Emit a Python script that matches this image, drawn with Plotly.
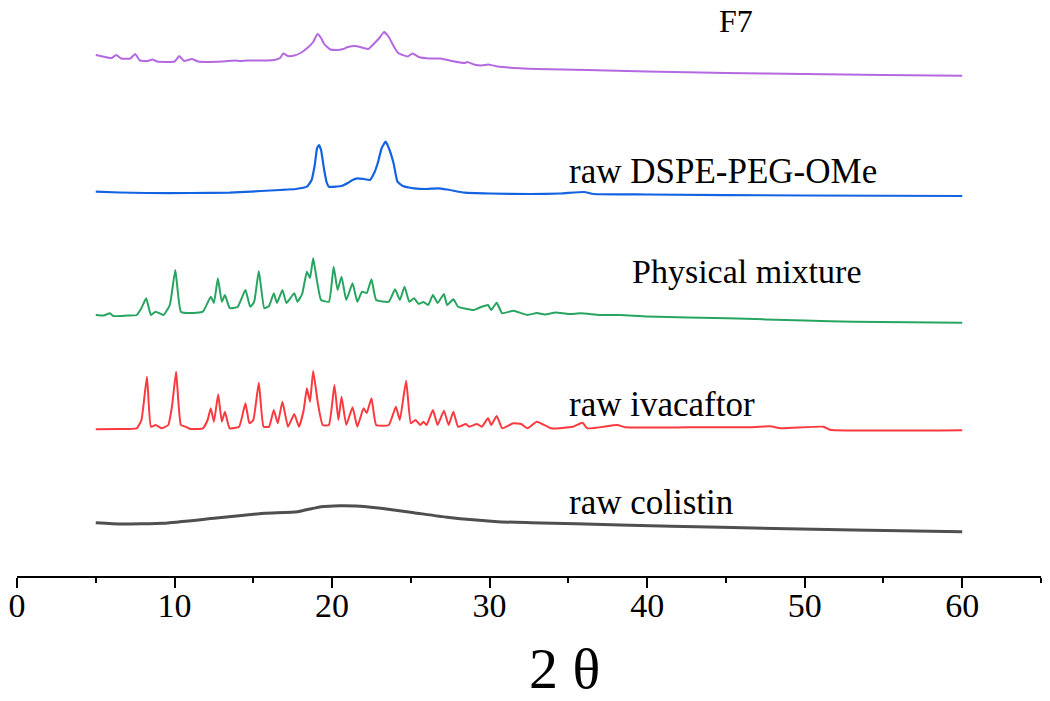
import plotly.graph_objects as go

# ---- data (2θ in degrees, displayed intensity in a.u., stacked as in the figure) ----
f7_x = [5.0, 5.6, 6.0, 6.3, 6.6, 7.2, 7.5, 7.8, 8.3, 8.6, 8.9, 10.0, 10.3, 10.6, 11.1, 11.5,
        13.0, 13.8, 14.2, 14.6, 15.5, 16.3, 16.7, 16.9, 17.2, 17.6, 18.0, 18.5, 18.8, 19.07,
        19.3, 19.5, 19.9, 20.3, 20.7, 21.0, 21.5, 22.0, 22.3, 22.7, 23.0, 23.3, 23.6, 23.9,
        24.2, 24.8, 25.1, 25.5, 26.2, 26.9, 27.6, 28.4, 28.6, 29.0, 29.5, 29.9, 30.5, 31.9,
        33.0, 36.2, 40.0, 45.0, 50.0, 55.0, 60.0]
f7_y = [521, 519, 518, 521, 517.5, 517.5, 522, 515.5, 515, 516.5, 514.5, 514.5, 520, 515, 517, 514.5,
        514.5, 515.5, 515, 515.5, 515.5, 516, 518, 522.5, 520, 520.5, 523, 529, 534, 542,
        538, 532, 526.5, 526, 527, 529, 530, 528, 527, 533, 538, 544, 539, 530,
        523, 519.5, 522.5, 519, 517.5, 517.5, 515, 513, 514, 511.5, 510.5, 511.5, 509.5, 507.7,
        507, 506, 504.5, 503, 502, 501, 500.3]

dspe_x = [5.0, 6.5, 8.25, 11.0, 13.5, 15.5, 16.7, 17.7, 18.4, 18.7, 18.9, 19.05, 19.17, 19.3,
          19.5, 19.65, 19.8, 20.3, 20.6, 21.0, 21.3, 21.6, 22.0, 22.4, 22.7, 22.9, 23.15, 23.4,
          23.6, 23.9, 24.15, 24.5, 25.2, 26.0, 26.7, 27.3, 28.4, 30.0, 32.6, 34.5, 36.0, 36.6,
          40.0, 50.0, 60.0]
dspe_y = [384.3, 383.5, 383, 383, 383.3, 385, 386, 387, 389.3, 396, 411, 428, 431, 426,
          406, 394, 389.3, 389.5, 390, 393, 396, 397.7, 397, 396, 404, 413, 428, 434.3,
          428, 413, 394.3, 390, 387.7, 387, 387.7, 386.5, 383.3, 382.5, 382, 382.5, 384, 382,
          381.5, 380.5, 380]

mix_x = [5.0, 5.5, 5.9, 6.1, 7.0, 7.6, 7.9, 8.2, 8.5, 8.8, 9.3, 9.7, 10.05, 10.4, 11.0, 11.8,
         12.3, 12.5, 12.75, 13.0, 13.2, 13.5, 14.0, 14.5, 14.8, 15.05, 15.35, 15.7, 16.0, 16.3,
         16.5, 16.85, 17.1, 17.6, 17.8, 18.1, 18.4, 18.6, 18.8, 19.0, 19.3, 19.8, 20.1, 20.35,
         20.6, 20.9, 21.3, 21.6, 21.9, 22.2, 22.5, 22.8, 23.6, 24.0, 24.3, 24.6, 24.9, 25.2,
         25.5, 25.8, 26.1, 26.4, 26.7, 27.1, 27.3, 27.7, 28.0, 29.0, 29.3, 29.9, 30.1, 30.45,
         30.8, 31.5, 32.4, 33.0, 33.5, 34.2, 35.0, 35.8, 37.0, 38.3, 40.0, 45.1, 50.0, 53.1, 60.0]
mix_y = [261, 260.5, 262.7, 260, 260.5, 261, 268, 277.7, 261, 264.3, 261, 271, 306, 264.3, 263, 264.3,
         279.3, 273, 297.7, 274.3, 281, 268, 269, 286, 269.3, 274, 305, 267.7, 270, 282.7,
         273, 286, 273, 282.7, 274.3, 282, 304.3, 298, 317.7, 299.3, 276, 274.3, 309.3, 286,
         299.3, 276, 292.7, 274.3, 284.3, 283, 296.7, 276, 274.3, 286.7, 276, 289.3, 274.3, 277.7,
         272, 274, 271, 281, 273, 282, 271, 276.7, 269.3, 266, 268, 271, 266, 273.3,
         262.7, 265.3, 261, 263, 261.5, 263.5, 262, 262.7, 261, 261, 259.5, 257.7, 255.5, 254.3, 253.3]

iva_x = [5.0, 6.5, 7.6, 7.9, 8.25, 8.5, 8.8, 9.2, 9.6, 9.85, 10.1, 10.4, 10.7, 11.0, 11.8, 12.1,
         12.3, 12.5, 12.77, 13.0, 13.2, 13.5, 14.1, 14.5, 14.75, 15.0, 15.35, 15.65, 16.0, 16.3,
         16.55, 16.85, 17.2, 17.6, 17.9, 18.2, 18.4, 18.6, 18.8, 19.1, 19.4, 19.8, 20.15, 20.4,
         20.6, 20.9, 21.3, 21.6, 22.0, 22.2, 22.5, 22.8, 23.6, 24.05, 24.3, 24.7, 25.0, 25.3,
         25.6, 25.8, 26.0, 26.4, 26.7, 27.1, 27.4, 27.7, 28.0, 28.5, 28.7, 29.2, 29.5, 29.9,
         30.1, 30.45, 30.8, 31.5, 32.0, 32.4, 33.0, 33.9, 35.3, 35.9, 36.2, 38.1, 38.6, 42.6,
         46.3, 47.8, 48.5, 51.2, 51.6, 60.0]
iva_y = [146.7, 147, 147.7, 156, 199.3, 149.3, 151, 147.7, 151, 171, 204.3, 151, 149.3, 147, 147.7, 156,
         167.7, 154.3, 181.7, 154.3, 164.3, 147.7, 149.3, 172.7, 152.7, 156, 193.3, 149.3, 149.3, 166,
         152.7, 174.3, 149.3, 162, 149.3, 166, 187.7, 174.3, 205, 172.7, 151, 151, 191, 156,
         179.3, 151, 168.7, 149.3, 167.7, 163, 177.7, 151, 151, 169.3, 156, 195.3, 152.7, 156,
         151, 154.3, 151, 166, 151, 165.3, 151, 164.3, 149.3, 152, 149.3, 152, 149.3, 157.7,
         151, 160, 147.7, 152.7, 152, 147.7, 154.3, 147.7, 149.3, 153.3, 147.7, 151, 148.7, 148.7,
         148.7, 149.7, 147.7, 149.3, 146.3, 145.7]

col_x = [5.0, 6.6, 9.3, 12.5, 15.7, 17.8, 19.3, 20.5, 21.5, 23.1, 25.2, 27.3, 30.5, 32.6,
         38.3, 44.7, 53.1, 60.0]
col_y = [53.3, 52, 52.7, 57.7, 62.7, 64.3, 69.3, 70.3, 70, 67.7, 63.3, 58.7, 54.3, 53.3,
         51, 48.7, 46, 44.3]

series_names = ["F7", "raw DSPE-PEG-OMe", "Physical mixture", "raw ivacaftor", "raw colistin"]
x_ticks = [0, 10, 20, 30, 40, 50, 60]

# ---- styles ----
colors = ["#b469e0", "#1463e0", "#27a560", "#fa3a3f", "#4f4f4f"]
widths = [2, 2.2, 2, 2, 3]
label_sizes = [32, 35, 34, 35, 35]
SERIF = "Liberation Serif, Times New Roman, serif"

fig = go.Figure()
for name, xs, ys, c, w in zip(series_names,
                              [f7_x, dspe_x, mix_x, iva_x, col_x],
                              [f7_y, dspe_y, mix_y, iva_y, col_y],
                              colors, widths):
    fig.add_trace(go.Scatter(x=xs, y=ys, mode="lines", name=name,
                             line=dict(color=c, width=w, shape="spline", smoothing=0.4),
                             showlegend=False))

# label positions (pixel anchors converted to data units)
label_pos = [(717, 21), (567, 171.7), (630, 271), (567, 404), (567, 502)]
for name, (px, py), fs in zip(series_names, label_pos, label_sizes):
    fig.add_annotation(x=(px - 16.7) / 15.75, y=576 - py, xref="x", yref="y",
                       text=name, showarrow=False, xanchor="left", yanchor="middle",
                       font=dict(family=SERIF, size=fs, color="black"))

fig.add_annotation(x=(564 - 16.7) / 15.75, y=-(668 - 576) / 576, xref="x", yref="paper",
                   text="2 θ", showarrow=False, xanchor="center", yanchor="middle",
                   font=dict(family=SERIF, size=58, color="black"))

fig.update_layout(
    width=1050, height=701,
    margin=dict(l=17, r=9, t=0, b=125, autoexpand=False),
    paper_bgcolor="white", plot_bgcolor="white",
    xaxis=dict(range=[0, 65], showline=True, linecolor="black", linewidth=2,
               automargin=False,
               showgrid=False, zeroline=False, ticks="outside", ticklen=10, tickwidth=2,
               tickcolor="black", tickvals=x_ticks, ticktext=[str(t) for t in x_ticks],
               tickfont=dict(family=SERIF, size=34, color="black"),
               ticklabelstandoff=-12,
               minor=dict(dtick=5, tick0=0, ticks="outside", ticklen=5, tickwidth=2,
                          tickcolor="black", showgrid=False)),
    yaxis=dict(range=[0, 576], visible=False, fixedrange=True, automargin=False),
)

fig.write_html("out.html", config={"displayModeBar": False},
               post_script="document.body.style.margin='0';document.body.style.overflow='hidden';")
